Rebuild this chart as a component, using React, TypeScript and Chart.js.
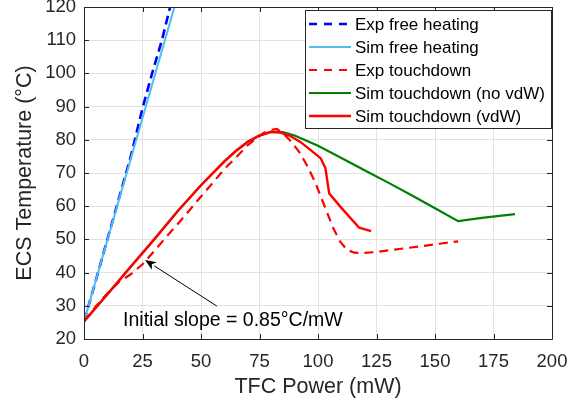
import React, { useEffect, useRef } from "react";
import { Chart, registerables } from "chart.js";

Chart.register(...registerables);

// ---- data ----
const xTickValues = [0, 25, 50, 75, 100, 125, 150, 175, 200];
const yTickValues = [20, 30, 40, 50, 60, 70, 80, 90, 100, 110, 120];

const seriesNames = [
  "Exp free heating",
  "Sim free heating",
  "Exp touchdown",
  "Sim touchdown (no vdW)",
  "Sim touchdown (vdW)",
];

const expFreeX = [0, 5, 10, 15, 20, 25, 29.1, 33.3, 36.8, 37.5];
const expFreeY = [25.3, 37.5, 50, 62.5, 75, 89.5, 100, 110, 120, 122];

const simFreeX = [0, 40];
const simFreeY = [25.3, 123.3];

const expTouchX = [0, 5, 10, 15, 20, 25, 30, 35, 41, 50, 55, 60, 64, 70, 76.6, 80, 82.4, 85, 88.5, 92.3, 95.5, 98.6, 102, 104.5, 106.5, 109.5, 112.3, 115.5, 119.4, 125, 130, 137.9, 145, 152, 159.9];
const expTouchY = [25.3, 29.8, 33.8, 37.2, 39.5, 42.5, 46.5, 50.6, 55.4, 62.9, 67, 71.2, 74, 78.4, 82, 83, 83.3, 82, 79.5, 76, 72, 67.5, 61.5, 57, 53.4, 49.3, 46.9, 46, 45.9, 46.2, 46.7, 47.4, 48, 48.7, 49.4];

const simNoVdwX = [0, 10, 20, 30, 40, 50, 60, 65, 70, 75, 80, 85, 90, 100, 110, 121.3, 130, 140, 150, 159.9, 170, 184.2];
const simNoVdwY = [25.3, 33.5, 41.8, 50, 58.5, 66.3, 73.5, 76.7, 79.4, 81.3, 82.4, 82.3, 81.3, 78.2, 74.5, 70.3, 67.1, 63.3, 59.4, 55.5, 56.5, 57.6];

const simVdwX = [0, 10, 20, 30, 40, 50, 60, 65, 70, 75, 80, 84, 88, 92.6, 97, 101.2, 103.2, 104, 104.8, 110, 117.6, 122.7];
const simVdwY = [25.3, 33.5, 41.8, 50, 58.5, 66.3, 73.5, 76.7, 79.4, 81.3, 82.4, 82.2, 81.2, 79.3, 76.8, 74.4, 71.4, 67.5, 63.8, 59.5, 53.5, 52.5];

const annotationText = "Initial slope = 0.85°C/mW";
const annotationTextAt = [16.7, 25.6];
const arrowFrom = [56.8, 29.9];
const arrowTo = [26.1, 43.8];

// ---- styles ----
const FONT = "'Liberation Sans', Arial, Helvetica, sans-serif";
const AXIS_COLOR = "#262626";
const GRID_COLOR = "#e2e2e2";

const seriesStyles = [
  { color: "#0000ff", dash: [9, 5], width: 2.6 },
  { color: "#4dbeee", dash: [], width: 2 },
  { color: "#ff0000", dash: [9, 6], width: 2.2 },
  { color: "#008000", dash: [], width: 2.2 },
  { color: "#ff0000", dash: [], width: 2.4 },
];

const seriesX = [expFreeX, simFreeX, expTouchX, simNoVdwX, simVdwX];
const seriesY = [expFreeY, simFreeY, expTouchY, simNoVdwY, simVdwY];

const toPoints = (xs: number[], ys: number[]) => xs.map((x, i) => ({ x, y: ys[i] }));

const overlayPlugin = {
  id: "matlabOverlay",
  afterDraw(chart: any) {
    const { ctx, chartArea } = chart;
    const xs = chart.scales.x;
    const ys = chart.scales.y;
    const { left, right, top, bottom } = chartArea;
    ctx.save();

    // box + inward ticks
    ctx.strokeStyle = AXIS_COLOR;
    ctx.lineWidth = 1;
    ctx.beginPath();
    ctx.rect(Math.round(left) + 0.5, Math.round(top) + 0.5, Math.round(right - left), Math.round(bottom - top));
    ctx.stroke();
    const tl = 5;
    ctx.beginPath();
    xTickValues.forEach((v) => {
      const px = Math.round(xs.getPixelForValue(v)) + 0.5;
      ctx.moveTo(px, bottom);
      ctx.lineTo(px, bottom - tl);
      ctx.moveTo(px, top);
      ctx.lineTo(px, top + tl);
    });
    yTickValues.forEach((v) => {
      const py = Math.round(ys.getPixelForValue(v)) + 0.5;
      ctx.moveTo(left, py);
      ctx.lineTo(left + tl, py);
      ctx.moveTo(right, py);
      ctx.lineTo(right - tl, py);
    });
    ctx.stroke();

    // annotation arrow
    const ax0 = xs.getPixelForValue(arrowFrom[0]);
    const ay0 = ys.getPixelForValue(arrowFrom[1]);
    const ax1 = xs.getPixelForValue(arrowTo[0]);
    const ay1 = ys.getPixelForValue(arrowTo[1]);
    const ang = Math.atan2(ay1 - ay0, ax1 - ax0);
    const headLen = 11;
    const headW = 4.5;
    const bx = ax1 - headLen * Math.cos(ang);
    const by = ay1 - headLen * Math.sin(ang);
    ctx.strokeStyle = "#000";
    ctx.lineWidth = 1;
    ctx.beginPath();
    ctx.moveTo(ax0, ay0);
    ctx.lineTo(bx, by);
    ctx.stroke();
    ctx.fillStyle = "#000";
    ctx.beginPath();
    ctx.moveTo(ax1, ay1);
    ctx.lineTo(bx + headW * Math.sin(ang), by - headW * Math.cos(ang));
    ctx.lineTo(ax1 - (headLen - 3) * Math.cos(ang), ay1 - (headLen - 3) * Math.sin(ang));
    ctx.lineTo(bx - headW * Math.sin(ang), by + headW * Math.cos(ang));
    ctx.closePath();
    ctx.fill();

    // annotation text
    ctx.fillStyle = "#000";
    ctx.font = `19.5px ${FONT}`;
    ctx.textAlign = "left";
    ctx.textBaseline = "middle";
    ctx.fillText(annotationText, xs.getPixelForValue(annotationTextAt[0]), ys.getPixelForValue(annotationTextAt[1]));

    // legend
    const lw = 246;
    const lh = 118;
    const lx = Math.round(right) - lw - 1;
    const ly = Math.round(top) + 3;
    ctx.fillStyle = "#ffffff";
    ctx.fillRect(lx, ly, lw, lh);
    ctx.strokeStyle = AXIS_COLOR;
    ctx.lineWidth = 1;
    ctx.strokeRect(lx + 0.5, ly + 0.5, lw, lh);
    ctx.font = `17px ${FONT}`;
    ctx.textBaseline = "middle";
    seriesNames.forEach((name, i) => {
      const st = seriesStyles[i];
      const ry = ly + 14 + i * 23;
      ctx.strokeStyle = st.color;
      ctx.lineWidth = st.width;
      ctx.setLineDash(st.dash.length ? [8, 7] : []);
      ctx.beginPath();
      ctx.moveTo(lx + 4, ry);
      ctx.lineTo(lx + 46, ry);
      ctx.stroke();
      ctx.setLineDash([]);
      ctx.fillStyle = "#000";
      ctx.fillText(name, lx + 50, ry + 1);
    });

    ctx.restore();
  },
};

export default function App() {
  const canvasRef = useRef<HTMLCanvasElement | null>(null);

  useEffect(() => {
    if (!canvasRef.current) return;
    const datasets = seriesNames.map((name, i) => ({
      label: name,
      data: toPoints(seriesX[i], seriesY[i]),
      borderColor: seriesStyles[i].color,
      backgroundColor: seriesStyles[i].color,
      borderWidth: seriesStyles[i].width,
      borderDash: seriesStyles[i].dash,
      pointRadius: 0,
      tension: 0,
      fill: false,
      order: seriesNames.length - i,
      clip: 0,
    }));

    const chart = new Chart(canvasRef.current, {
      type: "line",
      data: { datasets },
      options: {
        animation: false,
        responsive: true,
        maintainAspectRatio: false,
        parsing: false as any,
        layout: { padding: { top: 7, right: 34, left: 0, bottom: 0 } },
        plugins: {
          legend: { display: false },
          tooltip: { enabled: false },
        },
        scales: {
          x: {
            type: "linear",
            min: 0,
            max: 200,
            afterBuildTicks: (scale: any) => {
              scale.ticks = xTickValues.map((v) => ({ value: v }));
            },
            afterFit: (scale: any) => {
              scale.height = 69;
              scale.paddingLeft = 0;
              scale.paddingRight = 0;
            },
            grid: { color: GRID_COLOR, drawTicks: false },
            border: { display: false },
            ticks: {
              padding: 12,
              color: AXIS_COLOR,
              font: { family: FONT, size: 18.5 },
              maxRotation: 0,
            },
            title: {
              display: true,
              text: "TFC Power (mW)",
              color: AXIS_COLOR,
              font: { family: FONT, size: 21.5 },
              padding: { top: 0, bottom: 8 },
            },
          },
          y: {
            type: "linear",
            min: 20,
            max: 120,
            afterBuildTicks: (scale: any) => {
              scale.ticks = yTickValues.map((v) => ({ value: v }));
            },
            afterFit: (scale: any) => {
              scale.width = 84;
              scale.paddingTop = 0;
              scale.paddingBottom = 0;
            },
            grid: { color: GRID_COLOR, drawTicks: false },
            border: { display: false },
            ticks: {
              padding: 8,
              color: AXIS_COLOR,
              font: { family: FONT, size: 18.5 },
            },
            title: {
              display: true,
              text: "ECS Temperature (°C)",
              color: AXIS_COLOR,
              font: { family: FONT, size: 21.5 },
              padding: { top: 12, bottom: 0 },
            },
          },
        },
      },
      plugins: [overlayPlugin],
    } as any);

    return () => chart.destroy();
  }, []);

  return (
    <div style={{ position: "fixed", left: 0, top: 0, width: 586, height: 408, background: "#fff" }}>
      <canvas ref={canvasRef} />
    </div>
  );
}
